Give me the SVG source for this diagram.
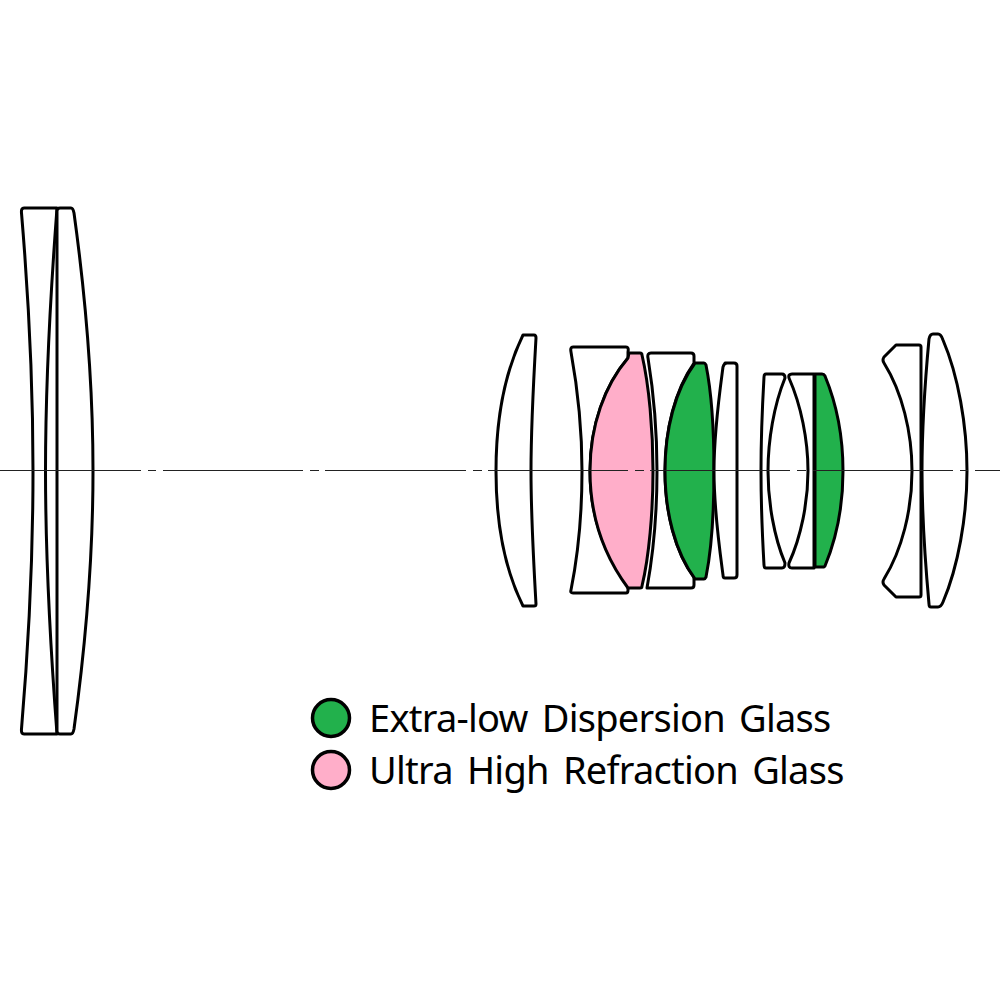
<svg xmlns="http://www.w3.org/2000/svg" width="1000" height="1000" viewBox="0 0 1000 1000">
<style>
.l{fill:#fff;stroke:#000;stroke-width:3;stroke-linejoin:round}
.g{fill:#22b14c;stroke:#000;stroke-width:3;stroke-linejoin:round}
.p{fill:#ffaec9;stroke:#000;stroke-width:3;stroke-linejoin:round}
.t{font-family:"Noto Sans","Open Sans",sans-serif;font-size:38px;fill:#000;word-spacing:5px;letter-spacing:-.75px}
</style>
<rect width="1000" height="1000" fill="#fff"/>
<g id="lens-1"><path class="l" d="M24 208H57C50 300 45.500 400 45.500 471C45.500 542 50 642 57 734H24Q21 734 21.500 729C29 640 33 550 33 471C33 392 29 302 21.500 213Q21 208 24 208Z"/></g>
<g id="lens-2"><path class="l" d="M60 208H71Q73 208 74 213C86 300 93 390 93 471C93 552 86 642 74 729Q73 734 71 734H60Q57 734 57 731V211Q57 208 60 208Z"/></g>
<g id="lens-3"><path class="l" d="M523 335H534Q536 335 536 338C533 390 531 430 531 471C531 512 533 552 536 604Q536 606 534 606H523C505 570 496 525 496 471C496 417 505 372 523 335Z"/></g>
<g id="lens-4"><path class="l" d="M573 347H626Q629 347 628 352L628 358C605 385 590 425 590 471C590 517 605 557 628 584L628 590Q628 593 626 593H573Q570 593 571 590C577 560 582 520 582 471C582 422 577 385 571 352Q570 347 573 347Z"/></g>
<g id="lens-pink"><path class="p" d="M629 353H640Q642 353 642 355C649 385 653 430 653 471C653 512 649 557 642 586Q642 588 640 588H628C605 557 590 517 590 471C590 425 605 385 628 358Z"/></g>
<g id="lens-5"><path class="l" d="M651 353H691Q694 353 694 356V363C675 390 665 430 665 471C665 512 675 552 694 577V585Q694 588 691 588H647C653 555 657 515 657 471C657 430 654 395 648 358Q647 353 651 353Z"/></g>
<g id="lens-green-1"><path class="g" d="M695 363H704Q705 363 706 365C711 390 714 430 714 471C714 512 711 552 706 577Q705 579 704 579H695C675 552 665 512 665 471C665 430 675 390 695 363Z"/></g>
<g id="lens-6"><path class="l" d="M725 363H734Q737 363 737 366V575Q737 578 734 578H725Q723 578 723 575C719 545 714 510 714 471C714 432 719 397 723 367Q724 363 727 363Z"/></g>
<g id="lens-7"><path class="l" d="M766 374H782Q785 374 785 378C774 405 768 440 768 471C768 502 774 537 785 563Q785 568 782 568H766Q764 568 764 565C762 530 761 500 761 471C761 442 762 412 764 377Q764 374 766 374Z"/></g>
<g id="lens-8"><path class="l" d="M792 374H814V568H792Q788 568 789 563C801 537 808 502 808 471C808 440 801 405 789 378Q788 374 792 374Z"/></g>
<g id="lens-green-2"><path class="g" d="M815 374H822Q824 374 825 376C837 405 843 440 843 471C843 502 837 537 825 566L824 567H815Z"/></g>
<g id="lens-9"><path class="l" d="M896 345H919Q921 345 921 347V595Q921 597 919 597H896L884 585Q882 582 884 579C902 550 912 510 912 471C912 432 902 392 884 363Q882 360 884 357Z"/></g>
<g id="lens-10"><path class="l" d="M933 334H938Q941 334 943 340C958 375 967 425 967 471C967 517 958 567 943 602Q941 607 938 607H931Q929 607 929 604C925 560 922 520 922 471C922 422 925 382 929 339Q930 334 933 334Z"/></g>
<g id="connectors"><path fill="none" stroke="#222" stroke-width="1" d="M0 470.500H141M148 470.500H156M163 470.500H303M310 470.500H319M325 470.500H466M473 470.500H482M488 470.500H628M635 470.500H644M650 470.500H790M797 470.500H806M813 470.500H953M960 470.500H968M975 470.500H1000"/></g>
<g id="legend-ed"><circle class="g" cx="331" cy="718" r="18.500" style="stroke-width:3.500"/><text class="t" x="369" y="732">Extra-low Dispersion Glass</text></g>
<g id="legend-uhr"><circle class="p" cx="331" cy="770" r="18.500" style="stroke-width:3.500"/><text class="t" x="369" y="784">Ultra High Refraction Glass</text></g>
</svg>
